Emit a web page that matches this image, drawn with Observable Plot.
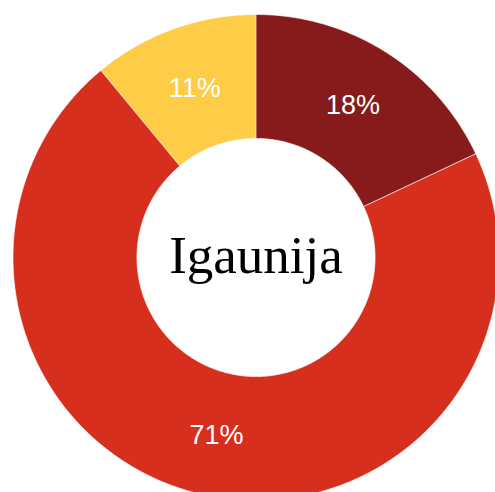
<!DOCTYPE html>
<html>
<head>
<meta charset="utf-8">
<script src="https://cdn.jsdelivr.net/npm/d3@7"></script>
<script src="https://cdn.jsdelivr.net/npm/@observablehq/plot@0.6"></script>
<style>
  html, body { margin: 0; padding: 0; background: #fff; overflow: hidden; }
</style>
</head>
<body>
<div id="chart"></div>
<script>
const categories = ["A", "B", "C"];
const values = [18, 71, 11];
const labels = ["18%", "71%", "11%"];
const colors = ["#871b1b", "#d72f1e", "#fecc47"];
const centerTitle = "Igaunija";

const innerRatio = 0.49;
const pie = d3.pie().sort(null).value(d => d)(values);

const polyPoints = [];
const labelPoints = [];
pie.forEach((s, i) => {
  const n = Math.max(8, Math.ceil((s.endAngle - s.startAngle) / 0.01));
  const outer = [], inner = [];
  for (let k = 0; k <= n; k++) {
    const a = s.startAngle + (s.endAngle - s.startAngle) * k / n;
    outer.push({cat: categories[i], x: Math.sin(a), y: -Math.cos(a)});
    inner.push({cat: categories[i], x: innerRatio * Math.sin(a), y: -innerRatio * Math.cos(a)});
  }
  polyPoints.push(...outer, ...inner.reverse());
  const m = (s.startAngle + s.endAngle) / 2;
  const r = (1 + innerRatio) / 2;
  labelPoints.push({cat: categories[i], label: labels[i], x: r * Math.sin(m), y: -r * Math.cos(m)});
});

const chart = Plot.plot({
  width: 495,
  height: 492,
  margin: 0,
  style: {background: "#fff", overflow: "hidden"},
  x: {domain: [-1, 1], range: [12.5, 498.5], axis: null},
  y: {domain: [-1, 1], range: [14, 500], axis: null},
  color: {domain: categories, range: colors},
  marks: [
    Plot.line(polyPoints, {x: "x", y: "y", z: "cat", fill: "cat", stroke: "white", strokeWidth: 0.6, curve: "linear-closed"}),
    Plot.text(labelPoints, {x: "x", y: "y", text: "label", fill: "white", fontSize: 27, fontFamily: "'Liberation Sans', Arial, sans-serif", dy: 1}),
    Plot.text([centerTitle], {x: () => 0, y: () => 0, text: d => d, fill: "black", fontSize: 53, fontFamily: "'Liberation Serif', 'Times New Roman', serif", dy: -1})
  ]
});
document.getElementById("chart").appendChild(chart);
</script>
</body>
</html>
